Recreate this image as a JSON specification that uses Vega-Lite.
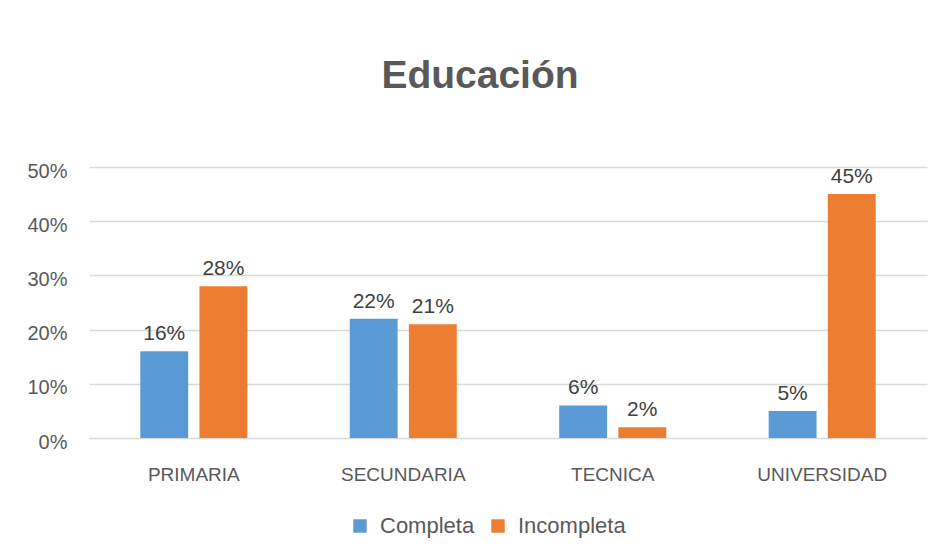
{
  "$schema": "https://vega.github.io/schema/vega-lite/v6.json",
  "width": 838,
  "height": 271,
  "autosize": "none",
  "padding": {"left": 89, "top": 167, "right": 16, "bottom": 119},
  "background": "white",
  "title": {
    "text": "Educación",
    "font": "Liberation Sans",
    "fontSize": 39,
    "fontWeight": "bold",
    "color": "#595959",
    "anchor": "middle",
    "offset": 65,
    "dx": -28
  },
  "config": {
    "view": {"stroke": null},
    "font": "Liberation Sans"
  },
  "data": {
    "values": [
      {"nivel": "PRIMARIA", "estado": "Completa", "valor": 0.16},
      {"nivel": "PRIMARIA", "estado": "Incompleta", "valor": 0.28},
      {"nivel": "SECUNDARIA", "estado": "Completa", "valor": 0.22},
      {"nivel": "SECUNDARIA", "estado": "Incompleta", "valor": 0.21},
      {"nivel": "TECNICA", "estado": "Completa", "valor": 0.06},
      {"nivel": "TECNICA", "estado": "Incompleta", "valor": 0.02},
      {"nivel": "UNIVERSIDAD", "estado": "Completa", "valor": 0.05},
      {"nivel": "UNIVERSIDAD", "estado": "Incompleta", "valor": 0.45}
    ]
  },
  "encoding": {
    "x": {
      "field": "nivel",
      "type": "nominal",
      "sort": null,
      "scale": {"paddingInner": 0.489, "paddingOuter": 0.245},
      "axis": {
        "title": null,
        "labelAngle": 0,
        "labelFontSize": 19,
        "labelColor": "#595959",
        "labelPadding": 27,
        "domain": false,
        "ticks": false
      }
    },
    "xOffset": {
      "field": "estado",
      "type": "nominal",
      "scale": {"paddingInner": 0.19}
    },
    "y": {
      "field": "valor",
      "type": "quantitative",
      "scale": {"domain": [0, 0.5]},
      "axis": {
        "title": null,
        "format": ".0%",
        "values": [0, 0.1, 0.2, 0.3, 0.4, 0.5],
        "labelFontSize": 20,
        "labelColor": "#595959",
        "labelPadding": 22,
        "labelOffset": 4,
        "domain": false,
        "ticks": false,
        "gridColor": "#d9d9d9",
        "gridWidth": 1.5
      }
    }
  },
  "layer": [
    {
      "mark": {"type": "bar"},
      "encoding": {
        "color": {
          "field": "estado",
          "type": "nominal",
          "scale": {"domain": ["Completa", "Incompleta"], "range": ["#5b9bd5", "#ed7d31"]},
          "legend": {
            "title": null,
            "orient": "none",
            "direction": "horizontal",
            "legendX": 260,
            "legendY": 348,
            "symbolType": "square",
            "symbolSize": 180,
            "symbolStrokeWidth": 0,
            "labelFontSize": 22,
            "labelColor": "#595959",
            "labelOffset": 9,
            "columnPadding": 12
          }
        }
      }
    },
    {
      "mark": {"type": "text", "baseline": "bottom", "dy": -7, "fontSize": 21, "color": "#404040"},
      "encoding": {
        "text": {"field": "valor", "type": "quantitative", "format": ".0%"}
      }
    }
  ]
}
